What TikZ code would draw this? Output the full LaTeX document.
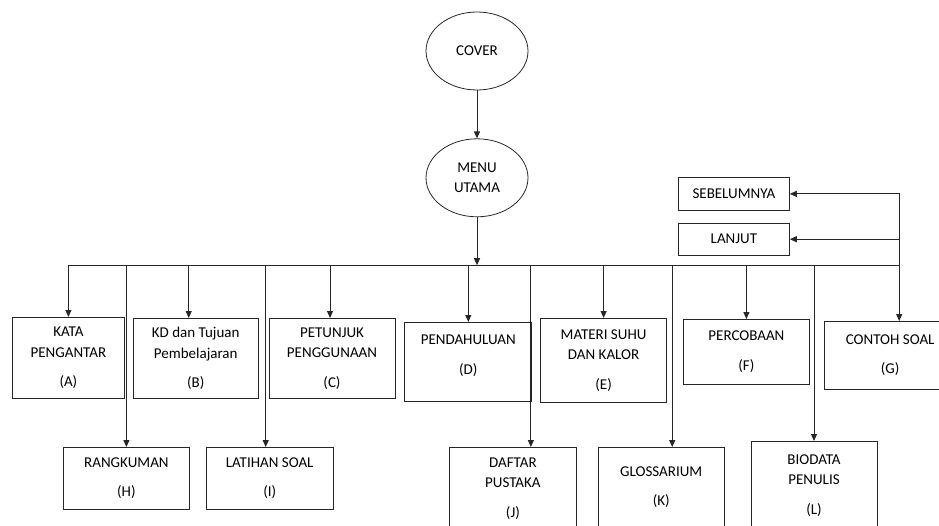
\documentclass[tikz,border=0pt]{standalone}
\usepackage{fontspec}
\setmainfont{Carlito}
\usetikzlibrary{shapes,arrows.meta,positioning}

\begin{document}
\begin{tikzpicture}[
    x=1pt, y=-1pt,
    font=\fontsize{15}{20.5}\selectfont,
    oval/.style={ellipse, draw=black!85, line width=0.8pt, minimum width=102pt, minimum height=78pt, align=center},
    box/.style={rectangle, draw=black!85, line width=0.8pt, align=center, inner sep=0pt},
    boxsize/.style 2 args={minimum width=#1pt, minimum height=#2pt},
    line/.style={draw, black!85, line width=1pt, -{Triangle[length=7pt,width=6pt]}},
    wire/.style={draw, black!85, line width=1pt}
]
    \useasboundingbox (0,0) rectangle (939,525);
    \clip (0,0) rectangle (939,525);

    \node [oval] (cover) at (477,51) {COVER};
    \node [oval, below=48pt of cover] (menu) {MENU\\UTAMA};
    \coordinate [below=48pt of menu] (bus);

    % top row
    \node [box, boxsize={112}{81}, anchor=north west] (kata) at (12,317) {KATA\\PENGANTAR\\[9pt](A)};
    \node [box, boxsize={125}{80}, right=8pt of kata.north east, anchor=north west, yshift=-1pt] (kd) {KD dan Tujuan\\Pembelajaran\\[9pt](B)};
    \node [box, boxsize={126}{80}, right=10pt of kd.north east, anchor=north west] (petunjuk) {PETUNJUK\\PENGGUNAAN\\[9pt](C)};
    \node [box, boxsize={127}{79}, right=9pt of petunjuk.north east, anchor=north west, yshift=-4pt] (pendahuluan) {PENDAHULUAN\\[9pt](D)\\[-6pt]\mbox{}};
    \node [box, boxsize={126}{84}, right=8pt of pendahuluan.north east, anchor=north west, yshift=4pt] (materi) {MATERI SUHU\\DAN KALOR\\[9pt](E)};
    \node [box, boxsize={126}{65}, right=16pt of materi.north east, anchor=north west, yshift=-1pt] (percobaan) {PERCOBAAN\\[9pt](F)};
    \node [box, boxsize={132}{68}, right=14pt of percobaan.north east, anchor=north west, yshift=-2pt] (contoh) {CONTOH SOAL\\[9pt](G)};

    % bottom row
    \node [box, boxsize={126}{62}, anchor=north west] (rangkuman) at (63,447) {RANGKUMAN\\[9pt](H)};
    \node [box, boxsize={127}{62}, right=16pt of rangkuman.north east, anchor=north west] (latihan) {LATIHAN SOAL\\[9pt](I)};
    \node [box, boxsize={127}{82}, anchor=north west] (daftar) at (449,447) {DAFTAR\\PUSTAKA\\[9pt](J)};
    \node [box, boxsize={126}{80}, right=21pt of daftar.north east, anchor=north west] (glossarium) {GLOSSARIUM\\[9pt](K)};
    \node [box, boxsize={126}{88}, right=26pt of glossarium.north east, anchor=north west, yshift=6pt] (biodata) {BIODATA\\PENULIS\\[9pt](L)};

    % navigation
    \node [box, boxsize={111}{33}, anchor=north west] (sebelumnya) at (678,177) {SEBELUMNYA};
    \node [box, boxsize={111}{32}, below=12pt of sebelumnya.south west, anchor=north west] (lanjut) {LANJUT};

    \coordinate (right) at ([xshift=9pt]bus -| contoh.north);

    \path [line] (cover) -- (menu);
    \path [line] (menu) -- (bus);
    \path [wire] (bus -| kata.north) -- (right);

    \path [line] (bus -| kata.north) -- (kata.north);
    \path [line] ([xshift=-7pt]bus -| kd.north) -- ([xshift=-7pt]kd.north);
    \path [line] ([xshift=-2pt]bus -| petunjuk.north) -- ([xshift=-2pt]petunjuk.north);
    \path [line] (bus -| pendahuluan.north) -- (pendahuluan.north);
    \path [line] (bus -| materi.north) -- (materi.north);
    \path [line] (bus -| percobaan.north) -- (percobaan.north);
    \path [line] (right) -- ([xshift=9pt]contoh.north);

    \path [line] (bus -| rangkuman.north) -- (rangkuman.north);
    \path [line] ([xshift=-4pt]bus -| latihan.north) -- ([xshift=-4pt]latihan.north);
    \path [line] ([xshift=18pt]bus -| daftar.north) -- ([xshift=18pt]daftar.north);
    \path [line] ([xshift=11pt]bus -| glossarium.north) -- ([xshift=11pt]glossarium.north);
    \path [line] (bus -| biodata.north) -- (biodata.north);

    \path [line] (right) |- (sebelumnya.east);
    \path [line] (right |- lanjut.east) -- (lanjut.east);
\end{tikzpicture}
\end{document}
